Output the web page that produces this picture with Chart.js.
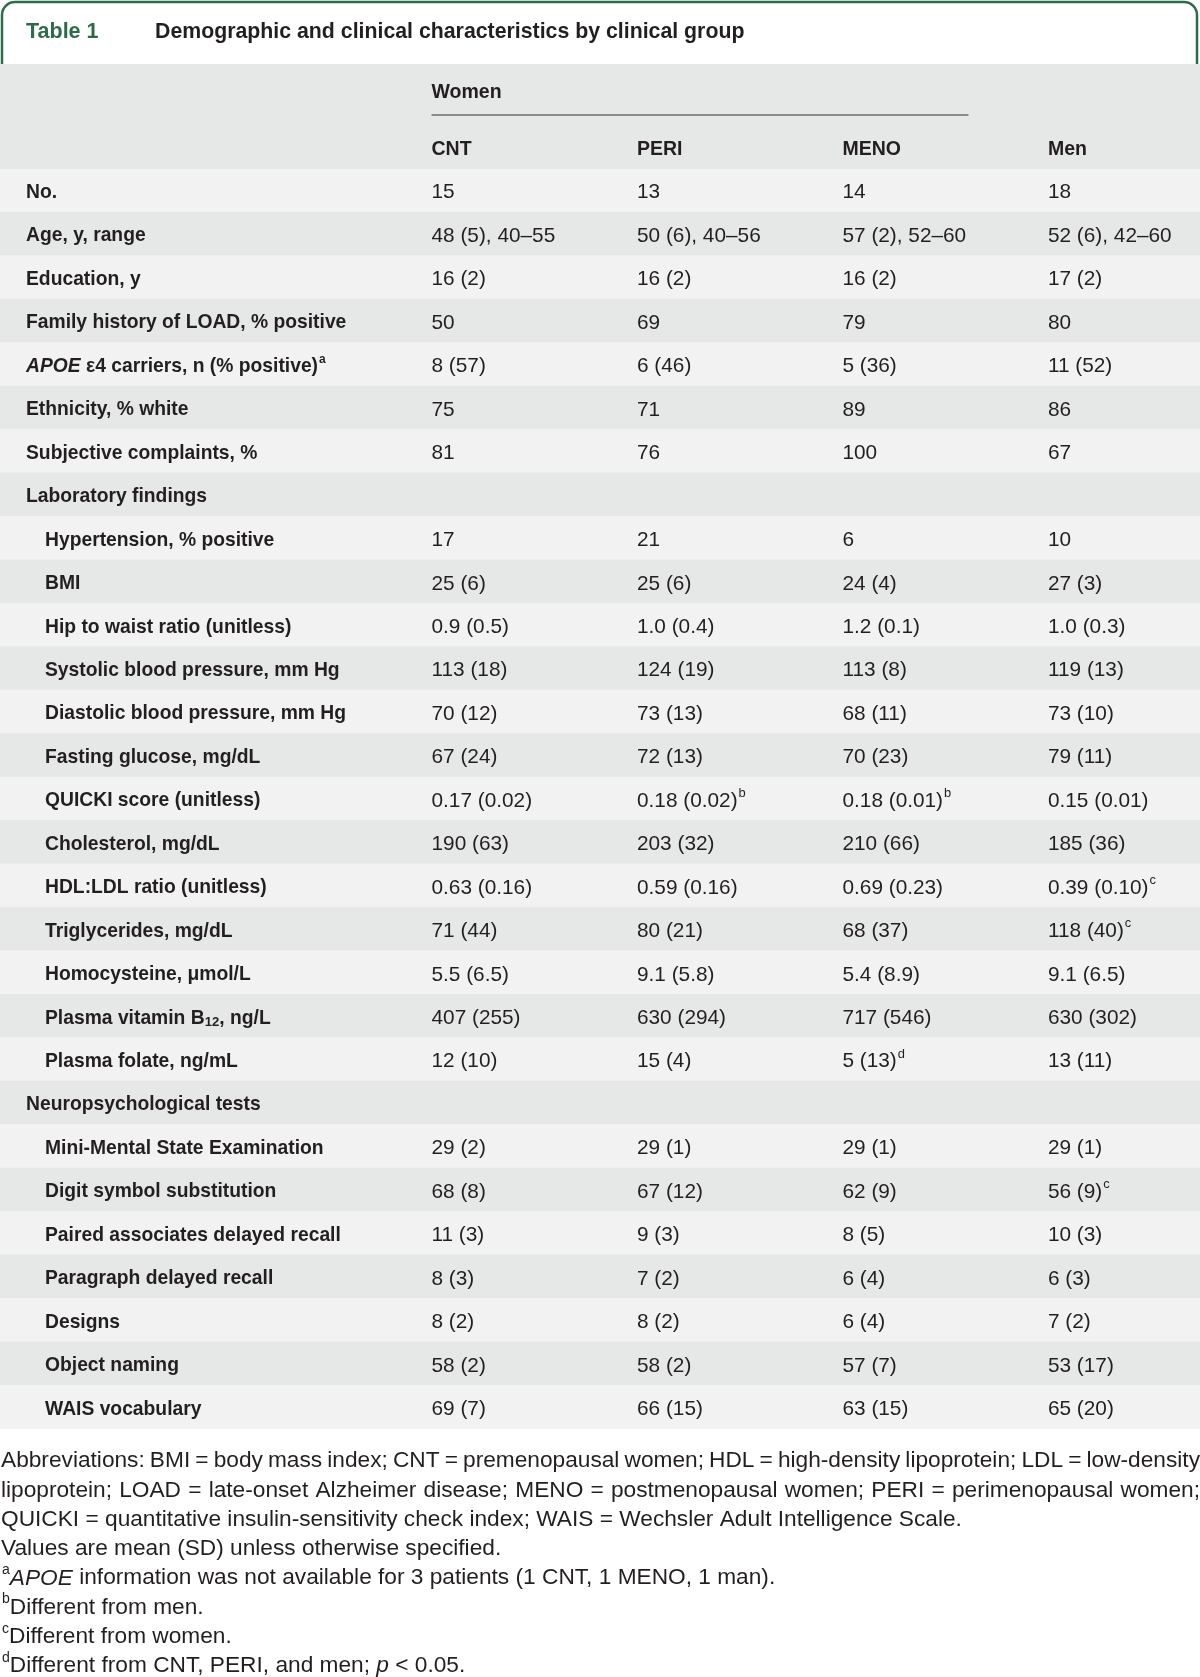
<!DOCTYPE html>
<html>
<head>
<meta charset="utf-8">
<script src="https://cdn.jsdelivr.net/npm/chart.js@4"></script>
<style>
  html, body { margin: 0; padding: 0; background: #fff; }
  canvas { display: block; }
</style>
</head>
<body>
<canvas id="table1" width="1200" height="1677"></canvas>
<script>
const title = 'Demographic and clinical characteristics by clinical group';
const groups = ['CNT', 'PERI', 'MENO', 'Men'];

// row labels; "*x*" italic, "^x" superscript, "_x" subscript
const rowLabels = [
  'No.', 'Age, y, range', 'Education, y', 'Family history of LOAD, % positive',
  '*APOE* ε4 carriers, n (% positive)^a', 'Ethnicity, % white', 'Subjective complaints, %',
  'Laboratory findings',
  'Hypertension, % positive', 'BMI', 'Hip to waist ratio (unitless)',
  'Systolic blood pressure, mm Hg', 'Diastolic blood pressure, mm Hg', 'Fasting glucose, mg/dL',
  'QUICKI score (unitless)', 'Cholesterol, mg/dL', 'HDL:LDL ratio (unitless)',
  'Triglycerides, mg/dL', 'Homocysteine, μmol/L', 'Plasma vitamin B_12, ng/L', 'Plasma folate, ng/mL',
  'Neuropsychological tests',
  'Mini-Mental State Examination', 'Digit symbol substitution', 'Paired associates delayed recall',
  'Paragraph delayed recall', 'Designs', 'Object naming', 'WAIS vocabulary'
];
const indented = [0,0,0,0,0,0,0,0, 1,1,1,1,1,1,1,1,1,1,1,1,1, 0, 1,1,1,1,1,1,1];

const cnt = ['15', '48 (5), 40–55', '16 (2)', '50', '8 (57)', '75', '81', '',
  '17', '25 (6)', '0.9 (0.5)', '113 (18)', '70 (12)', '67 (24)', '0.17 (0.02)', '190 (63)',
  '0.63 (0.16)', '71 (44)', '5.5 (6.5)', '407 (255)', '12 (10)', '',
  '29 (2)', '68 (8)', '11 (3)', '8 (3)', '8 (2)', '58 (2)', '69 (7)'];
const peri = ['13', '50 (6), 40–56', '16 (2)', '69', '6 (46)', '71', '76', '',
  '21', '25 (6)', '1.0 (0.4)', '124 (19)', '73 (13)', '72 (13)', '0.18 (0.02)^b', '203 (32)',
  '0.59 (0.16)', '80 (21)', '9.1 (5.8)', '630 (294)', '15 (4)', '',
  '29 (1)', '67 (12)', '9 (3)', '7 (2)', '8 (2)', '58 (2)', '66 (15)'];
const meno = ['14', '57 (2), 52–60', '16 (2)', '79', '5 (36)', '89', '100', '',
  '6', '24 (4)', '1.2 (0.1)', '113 (8)', '68 (11)', '70 (23)', '0.18 (0.01)^b', '210 (66)',
  '0.69 (0.23)', '68 (37)', '5.4 (8.9)', '717 (546)', '5 (13)^d', '',
  '29 (1)', '62 (9)', '8 (5)', '6 (4)', '6 (4)', '57 (7)', '63 (15)'];
const men = ['18', '52 (6), 42–60', '17 (2)', '80', '11 (52)', '86', '67', '',
  '10', '27 (3)', '1.0 (0.3)', '119 (13)', '73 (10)', '79 (11)', '0.15 (0.01)', '185 (36)',
  '0.39 (0.10)^c', '118 (40)^c', '9.1 (6.5)', '630 (302)', '13 (11)', '',
  '29 (1)', '56 (9)^c', '10 (3)', '6 (3)', '7 (2)', '53 (17)', '65 (20)'];

const notes = [
  'Abbreviations: BMI = body mass index; CNT = premenopausal women; HDL = high-density lipoprotein; LDL = low-density',
  'lipoprotein; LOAD = late-onset Alzheimer disease; MENO = postmenopausal women; PERI = perimenopausal women;',
  'QUICKI = quantitative insulin-sensitivity check index; WAIS = Wechsler Adult Intelligence Scale.',
  'Values are mean (SD) unless otherwise specified.',
  '^a*APOE* information was not available for 3 patients (1 CNT, 1 MENO, 1 man).',
  '^bDifferent from men.',
  '^cDifferent from women.',
  '^dDifferent from CNT, PERI, and men; *p* < 0.05.'
];
const justified = [true, true, false, false, false, false, false, false];

const FONT = '"Liberation Sans", Arial, sans-serif';
const INK = '#231f20';
const GREEN = '#2e6b4b';
const DARK = '#e6e7e7';
const LIGHT = '#f2f2f2';
const X_MIN = -2.1, X_MAX = 3.74;

// draw (or measure) a string with simple inline markup
function rich(ctx, str, x, y, size, weight, dry) {
  const parts = str.split(/(\*[^*]+\*|\^[a-z]+|_\d+)/).filter(Boolean);
  let cx = x;
  for (const p of parts) {
    let txt = p, s = size, style = '', dy = 0;
    if (p[0] === '*') { txt = p.slice(1, -1); style = 'italic '; }
    else if (p[0] === '^') { txt = p.slice(1); s = size * 0.62; dy = -size * 0.36; cx += 1; }
    else if (p[0] === '_') { txt = p.slice(1); s = size * 0.68; dy = size * 0.22; }
    ctx.font = style + weight + ' ' + s + 'px ' + FONT;
    if (!dry) ctx.fillText(txt, cx, y + dy);
    cx += ctx.measureText(txt).width;
  }
  return cx - x;
}

const tablePlugin = {
  id: 'tablePlugin',
  beforeDraw(chart) {
    const { ctx, chartArea } = chart;
    ctx.save();
    ctx.fillStyle = DARK;
    ctx.fillRect(0, 64, chart.width, chartArea.top - 64);
    // title tab
    const r = 13, l = 2, t = 2, rt = chart.width - 3;
    ctx.strokeStyle = GREEN;
    ctx.lineWidth = 2.5;
    ctx.beginPath();
    ctx.moveTo(l, 64);
    ctx.lineTo(l, t + r);
    ctx.arcTo(l, t, l + r, t, r);
    ctx.lineTo(rt - r, t);
    ctx.arcTo(rt, t, rt, t + r, r);
    ctx.lineTo(rt, 64);
    ctx.stroke();
    ctx.restore();
  },
  afterDraw(chart) {
    const { ctx, chartArea, scales } = chart;
    const xs = scales.x, ys = scales.y;
    const dy = 2;
    ctx.save();
    ctx.textBaseline = 'middle';
    ctx.textAlign = 'left';

    ctx.fillStyle = GREEN;
    rich(ctx, 'Table 1', 26, 30 + dy, 21.5, 'bold');
    ctx.fillStyle = INK;
    rich(ctx, title, 155, 30 + dy, 21.3, 'bold');

    // column headers
    const c0 = xs.getPixelForValue(0);
    rich(ctx, 'Women', c0, 91 + dy, 19.5, 'bold');
    ctx.strokeStyle = '#333';
    ctx.lineWidth = 1.2;
    ctx.beginPath();
    ctx.moveTo(c0, 115);
    ctx.lineTo(xs.getPixelForValue(2) + 126, 115);
    ctx.stroke();
    groups.forEach((g, i) => rich(ctx, g, xs.getPixelForValue(i), 148 + dy, 19.5, 'bold'));

    // body cells
    const cols = [cnt, peri, meno, men];
    rowLabels.forEach((lab, i) => {
      const y = ys.getPixelForValue(i) + dy;
      rich(ctx, lab, chartArea.left + (indented[i] ? 45 : 26), y, 19.3, 'bold');
      cols.forEach((col, c) => {
        if (col[i]) rich(ctx, col[i], xs.getPixelForValue(c), y, 20.8, 'normal');
      });
    });

    // footnotes
    const fs = 22.7;
    notes.forEach((line, k) => {
      const y = chartArea.bottom + 32 + k * 29.3;
      if (justified[k]) {
        const words = line.split(' ');
        const widths = words.map(w => rich(ctx, w, 0, 0, fs, 'normal', true));
        const total = widths.reduce((a, b) => a + b, 0);
        const gap = (chart.width - 1 - total) / (words.length - 1);
        let x = 1;
        words.forEach((w, j) => { rich(ctx, w, x, y, fs, 'normal'); x += widths[j] + gap; });
      } else {
        rich(ctx, line, 1, y, fs, 'normal');
      }
    });
    ctx.restore();
  }
};

new Chart(document.getElementById('table1').getContext('2d'), {
  type: 'bar',
  data: {
    labels: rowLabels,
    datasets: [{
      data: rowLabels.map(() => [X_MIN, X_MAX]),
      backgroundColor: rowLabels.map((_, i) => (i % 2 ? DARK : LIGHT)),
      borderWidth: 0,
      barPercentage: 1,
      categoryPercentage: 1,
      inflateAmount: 0.6
    }]
  },
  options: {
    indexAxis: 'y',
    responsive: false,
    animation: false,
    events: [],
    layout: { padding: { top: 169, bottom: 248, left: 0, right: 0 } },
    plugins: { legend: { display: false }, tooltip: { enabled: false } },
    scales: {
      x: { type: 'linear', min: X_MIN, max: X_MAX, display: false },
      y: { type: 'category', display: false }
    }
  },
  plugins: [tablePlugin]
});
</script>
</body>
</html>
